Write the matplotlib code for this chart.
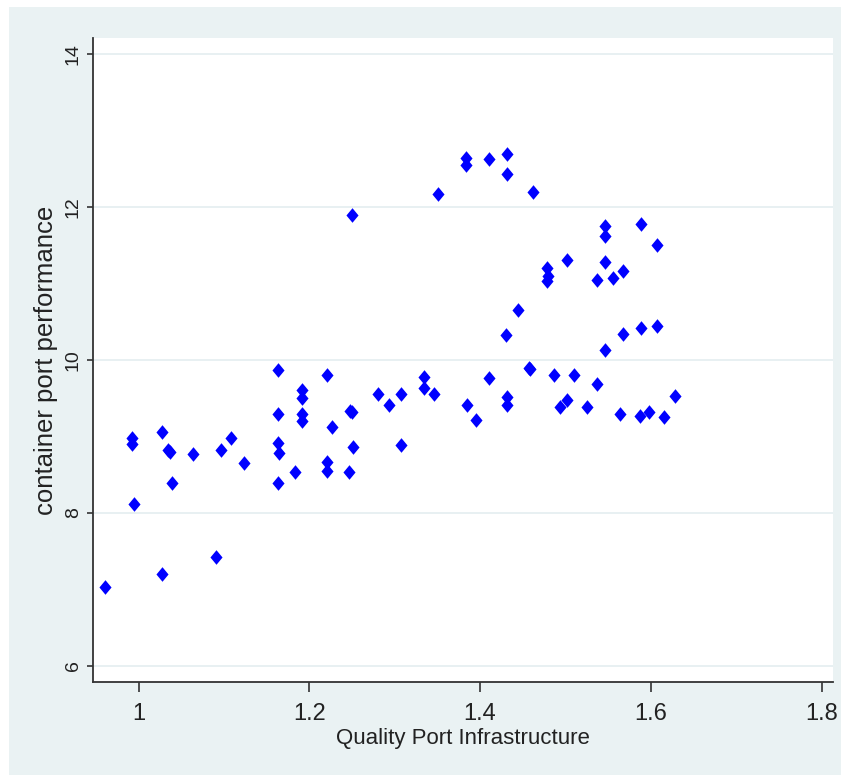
import matplotlib
matplotlib.use("Agg")
import matplotlib.pyplot as plt
from matplotlib.patches import Rectangle

# quality of port infrastructure (x) vs container port performance (y)
quality = [
    0.961, 0.992, 0.992, 0.995, 1.028, 1.028, 1.035, 1.037, 1.039, 1.064,
    1.091, 1.097, 1.108, 1.124, 1.163, 1.163, 1.163, 1.165, 1.163, 1.183,
    1.191, 1.191, 1.191, 1.191, 1.221, 1.221, 1.221, 1.227, 1.246, 1.250,
    1.248, 1.251, 1.250, 1.280, 1.293, 1.307, 1.307, 1.334, 1.334, 1.346,
    1.351, 1.384, 1.384, 1.385, 1.395, 1.410, 1.410, 1.430, 1.432, 1.432,
    1.432, 1.432, 1.444, 1.457, 1.458, 1.462, 1.479, 1.480, 1.479, 1.487,
    1.494, 1.502, 1.502, 1.510, 1.525, 1.537, 1.537, 1.546, 1.546, 1.546,
    1.546, 1.556, 1.564, 1.567, 1.567, 1.587, 1.588, 1.588, 1.598, 1.607,
    1.607, 1.616, 1.628,
]
performance = [
    7.03, 8.98, 8.90, 8.12, 9.06, 7.20, 8.82, 8.80, 8.39, 8.77,
    7.42, 8.82, 8.98, 8.65, 9.87, 9.29, 8.91, 8.79, 8.39, 8.53,
    9.61, 9.50, 9.30, 9.20, 9.80, 8.66, 8.55, 9.13, 8.53, 9.32,
    9.33, 8.86, 11.89, 9.56, 9.41, 9.56, 8.89, 9.78, 9.63, 9.56,
    12.17, 12.64, 12.55, 9.41, 9.22, 12.63, 9.77, 10.33, 12.69, 12.43,
    9.52, 9.41, 10.65, 9.89, 9.88, 12.19, 11.20, 11.10, 11.03, 9.80,
    9.39, 9.48, 11.31, 9.80, 9.39, 9.68, 11.04, 11.75, 11.62, 11.28,
    10.13, 11.07, 9.29, 11.16, 10.34, 9.27, 11.78, 10.42, 9.32, 11.51,
    10.45, 9.25, 9.53,
]

x_ticks = [1, 1.2, 1.4, 1.6, 1.8]
x_labels = ["1", "1.2", "1.4", "1.6", "1.8"]
y_ticks = [6, 8, 10, 12, 14]
y_labels = ["6", "8", "10", "12", "14"]

bg = "#eaf2f3"
regular = ["Liberation Sans", "DejaVu Sans"]

fig = plt.figure(figsize=(8.48, 7.82), dpi=100, facecolor="white")
# stata-like light outer region
fig.patches.append(Rectangle((9 / 848, 7 / 782), 832 / 848, 768 / 782,
                             transform=fig.transFigure, facecolor=bg,
                             edgecolor="none", zorder=-10))

ax = fig.add_axes([93 / 848, 1 - 682 / 782, 740 / 848, 644 / 782])
ax.set_facecolor("white")

diamond = [(0, 1), (0.83, 0), (0, -1), (-0.83, 0), (0, 1)]
ax.plot(quality, performance, linestyle="none", marker=diamond,
        markersize=10.5, color="#0000ff", markeredgewidth=0, zorder=3)

ax.set_xlim(0.9467, 1.8134)
ax.set_ylim(5.79, 14.21)

ax.set_yticks(y_ticks)
ax.set_yticklabels(y_labels, rotation=90, va="center", family=regular,
                   fontsize=14, color="#222222")
ax.set_xticks(x_ticks)
ax.set_xticklabels(x_labels, family=regular, fontsize=17, color="#222222")

ax.yaxis.grid(True, color="#e4eef0", linewidth=1.2, zorder=0)
ax.xaxis.grid(False)

for side in ["top", "right"]:
    ax.spines[side].set_visible(False)
for side in ["left", "bottom"]:
    ax.spines[side].set_color("#333333")
    ax.spines[side].set_linewidth(1.3)

ax.tick_params(axis="x", length=7, width=1.2, color="#333333", pad=8)
ax.tick_params(axis="y", length=4, width=1.2, color="#333333", pad=4)

ax.set_xlabel("Quality Port Infrastructure", family=regular, fontsize=16,
              color="#222222", labelpad=2)
ax.set_ylabel("container port performance", family=regular, fontsize=18.5,
              color="#222222", labelpad=5)

fig.savefig("out.png", dpi=100, facecolor="white")
